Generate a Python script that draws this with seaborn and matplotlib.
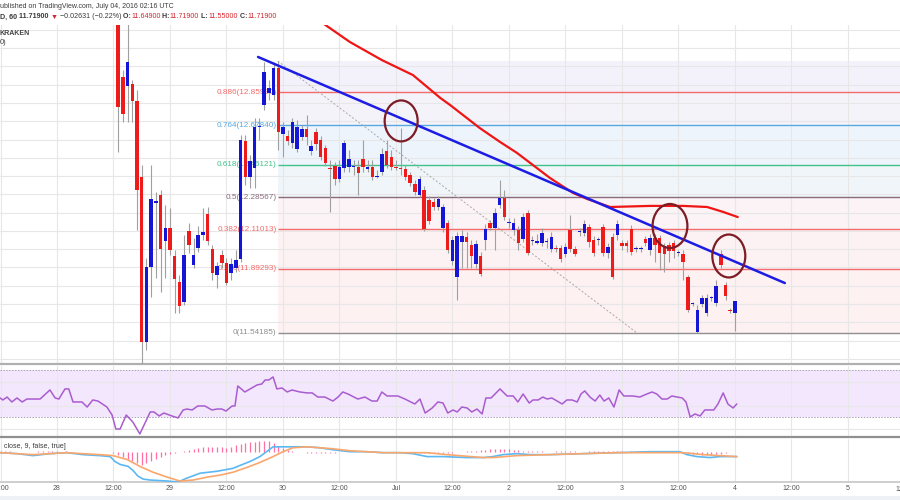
import numpy as np
import pandas as pd
import matplotlib
matplotlib.use("Agg")
import matplotlib.pyplot as plt
import matplotlib.transforms as mtransforms
import seaborn as sns
from matplotlib.patches import Ellipse, Rectangle

# -------------------
# 1. DATA (hourly candles)
# -------------------
# x axis is hours counted from Jun 28 00:00
FIRST_HOUR = 13

opens = [13.419, 12.943, 12.894, 12.905, 12.812, 12.396, 11.493, 11.903, 12.254, 12.297,
         12.046, 12.117, 11.964, 11.821, 11.712, 12.100, 11.914, 12.007, 12.079, 12.193,
         12.002, 11.860, 11.969, 11.925, 11.871, 11.898, 11.947, 12.593, 12.396, 12.445,
         12.669, 12.790, 12.855, 12.844, 12.992, 12.631, 12.620, 12.582, 12.549, 12.615,
         12.658, 12.538, 12.642, 12.598, 12.554, 12.445, 12.456, 12.385, 12.445, 12.450,
         12.450, 12.450, 12.494, 12.440, 12.450, 12.396, 12.423, 12.538, 12.505, 12.450,
         12.445, 12.440, 12.407, 12.358, 12.297, 12.325, 12.270, 12.259, 12.232, 12.117,
         12.144, 11.936, 11.849, 12.040, 12.068, 12.024, 11.920, 11.964, 12.051, 12.144,
         12.117, 12.243, 12.281, 12.144, 12.106, 12.106, 12.057, 12.199, 12.046, 12.035,
         12.035, 12.040, 12.002, 12.007, 12.007, 11.975, 12.106, 12.002, 12.095, 12.089,
         12.122, 12.051, 12.051, 12.122, 11.980, 12.068, 12.079, 12.035, 12.035, 12.111,
         12.002, 12.002, 12.057, 11.997, 12.062, 12.062, 12.018, 12.024, 12.035, 11.980,
         11.975, 11.849, 11.701, 11.548, 11.701, 11.652, 11.734, 11.707, 11.975, 11.805,
         11.668, 11.649]
highs = [13.473, 12.981, 13.255, 12.926, 12.872, 12.461, 11.953, 12.461, 12.314, 12.325,
         12.243, 12.226, 11.997, 11.860, 12.079, 12.144, 12.062, 12.128, 12.226, 12.232,
         12.024, 11.931, 11.997, 11.953, 11.953, 11.997, 12.626, 12.626, 12.516, 12.719,
         12.719, 13.025, 12.926, 13.025, 13.030, 12.697, 12.653, 12.719, 12.708, 12.680,
         12.735, 12.598, 12.664, 12.620, 12.571, 12.489, 12.478, 12.489, 12.598, 12.544,
         12.489, 12.489, 12.598, 12.489, 12.489, 12.434, 12.554, 12.598, 12.544, 12.489,
         12.664, 12.461, 12.423, 12.379, 12.401, 12.347, 12.292, 12.281, 12.292, 12.248,
         12.161, 12.073, 12.095, 12.106, 12.095, 12.051, 12.051, 11.986, 12.139, 12.161,
         12.226, 12.379, 12.325, 12.172, 12.172, 12.128, 12.199, 12.215, 12.073, 12.084,
         12.117, 12.062, 12.095, 12.024, 12.024, 12.035, 12.188, 12.018, 12.117, 12.161,
         12.139, 12.073, 12.068, 12.139, 12.035, 12.089, 12.161, 12.051, 12.051, 12.133,
         12.018, 12.018, 12.073, 12.084, 12.084, 12.079, 12.035, 12.040, 12.051, 11.997,
         11.997, 11.860, 11.712, 11.696, 11.750, 11.756, 11.745, 11.832, 11.997, 11.821,
         11.679, 11.719]
lows = [12.533, 12.697, 12.697, 12.697, 12.106, 11.368, 11.450, 11.739, 11.843, 11.767,
        11.843, 11.969, 11.652, 11.652, 11.696, 11.980, 11.898, 11.986, 12.051, 12.024,
        11.832, 11.789, 11.898, 11.805, 11.832, 11.876, 11.931, 12.352, 12.336, 12.336,
        12.598, 12.762, 12.817, 12.817, 12.544, 12.505, 12.571, 12.554, 12.533, 12.598,
        12.571, 12.516, 12.544, 12.489, 12.456, 12.204, 12.352, 12.368, 12.423, 12.423,
        12.407, 12.297, 12.423, 12.423, 12.379, 12.390, 12.407, 12.445, 12.434, 12.434,
        12.407, 12.379, 12.347, 12.297, 12.286, 12.100, 12.139, 12.215, 12.215, 12.095,
        11.980, 11.914, 11.723, 11.898, 11.898, 11.898, 11.898, 11.854, 11.997, 12.106,
        11.997, 12.226, 12.161, 12.117, 12.079, 11.997, 12.040, 11.969, 12.024, 12.029,
        12.018, 12.007, 11.986, 11.986, 11.931, 11.958, 11.986, 11.964, 12.073, 12.073,
        12.013, 11.964, 12.024, 11.964, 11.953, 11.838, 12.051, 11.997, 11.986, 11.969,
        11.986, 11.986, 12.018, 11.969, 11.931, 11.887, 11.876, 11.931, 11.953, 11.964,
        11.832, 11.657, 11.690, 11.542, 11.685, 11.636, 11.717, 11.690, 11.898, 11.723,
        11.652, 11.550]
closes = [12.779, 12.740, 13.025, 12.812, 12.325, 11.493, 11.903, 12.275, 12.265, 12.002,
          12.117, 11.997, 11.838, 11.690, 11.969, 12.024, 11.969, 12.079, 12.095, 12.046,
          11.871, 11.909, 11.925, 11.816, 11.920, 11.942, 12.598, 12.396, 12.483, 12.669,
          12.675, 12.970, 12.883, 12.992, 12.642, 12.669, 12.593, 12.697, 12.669, 12.658,
          12.615, 12.565, 12.576, 12.505, 12.472, 12.440, 12.385, 12.450, 12.582, 12.494,
          12.456, 12.418, 12.450, 12.450, 12.396, 12.401, 12.522, 12.461, 12.450, 12.445,
          12.440, 12.396, 12.363, 12.314, 12.385, 12.111, 12.155, 12.232, 12.275, 12.232,
          11.997, 12.051, 12.073, 12.073, 12.040, 11.964, 12.029, 11.865, 12.111, 12.117,
          12.199, 12.281, 12.177, 12.144, 12.144, 12.035, 12.177, 11.980, 12.051, 12.046,
          12.089, 12.040, 12.068, 12.002, 11.947, 12.013, 12.002, 11.975, 12.095, 12.139,
          12.040, 11.980, 12.051, 11.980, 12.013, 11.849, 12.139, 12.018, 12.018, 11.986,
          12.002, 12.002, 12.035, 12.062, 12.024, 11.980, 11.975, 11.991, 11.991, 11.980,
          11.931, 11.668, 11.701, 11.668, 11.734, 11.734, 11.734, 11.800, 11.914, 11.745,
          11.663, 11.719]

# red moving average on the price pane
ma_hours = [56.0, 62.2, 69.0, 75.6, 81.4, 83.5, 89.8, 94.1, 97.7, 104.7, 109.6, 112.6,
            117.5, 126.0, 133.0, 138.1, 141.5, 144.6]
ma_vals = [13.245, 13.134, 13.035, 12.953, 12.828, 12.789, 12.663, 12.587, 12.527, 12.390,
           12.308, 12.275, 12.231, 12.237, 12.237, 12.231, 12.204, 12.176]

# fibonacci retracement
fib_ratios = ['0', '0.236', '0.382', '0.5', '0.618', '0.764', '0.886', '1']
fib_prices = [11.54185, 11.89293, 12.11013, 12.28567, 12.46121, 12.67840, 12.85990, 13.02949]
fib_anchor_hours = [46.9, 123.2]
FIB_START = 47

# blue trend line (two anchor points) and the circled touches
trend_hours = [42.7, 154.6]
trend_prices = [13.052, 11.815]
circle_hours = [73.1, 130.2, 142.7]
circle_prices = [12.702, 12.127, 11.963]

# RSI(14)
rsi_hours = [-12.1, -11.5, -10.6, -9.6, -8.5, -7.4, -6.4, -3.6, -1.5, -0.4, 0.4, 1.7, 2.5, 3.4,
             5.3, 6.4, 7.6, 8.7, 10.6, 11.7, 12.5, 13.4, 14.7, 16.1, 17.6, 18.7, 19.8, 20.6,
             21.7, 22.7, 24.4, 25.7, 26.8, 27.6, 28.7, 29.9, 31.4, 32.9, 34.0, 35.0, 35.9,
             37.2, 37.8, 38.4, 39.9, 41.4, 42.5, 43.5, 44.2, 45.0, 45.9, 46.7, 47.8, 48.9,
             49.9, 51.6, 53.1, 54.2, 55.4, 56.9, 58.6, 59.7, 60.7, 61.8, 63.9, 65.4, 66.9,
             68.0, 69.0, 70.1, 72.4, 73.9, 76.0, 77.1, 78.2, 79.7, 80.9, 82.0, 83.0, 84.1,
             85.0, 86.0, 87.1, 88.1, 89.2, 90.3, 91.1, 92.2, 94.1, 95.6, 96.9, 97.9, 99.0,
             100.3, 101.1, 102.2, 103.2, 104.1, 105.1, 106.2, 107.3, 108.3, 109.4, 110.5,
             111.3, 112.1, 113.2, 114.3, 115.3, 116.2, 117.2, 118.3, 119.4, 120.4, 122.3,
             123.8, 125.3, 126.4, 127.4, 128.5, 129.6, 130.6, 131.7, 132.8, 133.6, 134.5,
             135.5, 136.6, 137.6, 139.5, 140.4, 141.5, 142.5, 143.6, 144.4]
rsi_vals = [46.6, 44.9, 47.4, 43.2, 46.6, 43.2, 45.7, 45.7, 53.4, 46.6, 45.7, 54.3, 54.3, 43.2,
            43.2, 38.9, 44.9, 44.0, 38.9, 32.1, 20.2, 20.2, 32.1, 26.2, 16.0, 25.3, 34.7, 34.7,
            31.3, 33.8, 31.3, 29.6, 36.4, 37.2, 36.4, 39.8, 39.8, 36.4, 37.2, 37.2, 35.5,
            39.8, 39.8, 56.8, 51.7, 55.1, 57.7, 58.5, 61.9, 61.9, 64.5, 54.3, 55.1, 51.7,
            53.4, 51.7, 50.9, 50.9, 47.4, 47.4, 44.0, 47.4, 51.7, 50.0, 45.7, 47.4, 44.0,
            44.0, 51.7, 48.3, 48.3, 45.7, 41.5, 45.7, 33.8, 38.1, 43.2, 42.3, 33.8, 36.4,
            34.7, 38.9, 38.1, 34.7, 37.2, 33.0, 46.6, 46.6, 54.3, 48.3, 48.3, 43.2, 50.0,
            42.3, 44.9, 44.9, 47.4, 45.7, 46.6, 44.0, 41.5, 44.9, 44.9, 43.2,
            50.0, 52.6, 47.4, 44.0, 49.1, 44.0, 46.6, 38.9, 53.4, 48.3, 48.3,
            47.4, 50.0, 51.7, 50.0, 45.7, 45.7, 48.3, 47.4, 46.6, 43.2, 30.4,
            33.0, 31.3, 36.4, 36.4, 41.5, 50.9, 41.5, 38.1, 41.5]

# MACD (12, 26, close, 9)
macd_hours = [-12.1, -8.5, -5.1, -1.5, 2.1, 5.5, 9.1, 11.3, 12.3, 13.4, 15.1, 16.1, 17.2, 18.3,
              19.8, 23.4, 25.7, 27.6, 30.4, 34.0, 37.4, 38.9, 41.0, 43.1, 45.9, 48.0, 50.1,
              53.1, 55.9, 58.6, 62.2, 65.8, 69.2, 72.9, 75.6, 78.6, 82.0, 87.1, 90.5, 92.6,
              94.7, 97.7, 100.5, 104.7, 111.7, 118.9, 126.0, 132.3, 133.8, 135.9, 138.7,
              140.8, 144.4]
macd_vals = [-0.01, -0.02, -0.04, -0.02, -0.01, -0.03, -0.04, -0.05, -0.10, -0.13, -0.15, -0.19,
             -0.25, -0.28, -0.29, -0.30, -0.31, -0.27, -0.22, -0.20, -0.17, -0.14, -0.10, -0.05,
             0.05, 0.05, 0.05, 0.05, 0.04, 0.02, 0.00, 0.00, -0.01, -0.01, -0.02, -0.05, -0.05,
             -0.06, -0.06, -0.05, -0.03, -0.02, -0.03, -0.03, -0.02, -0.01, 0.00, 0.00, -0.03,
             -0.05, -0.06, -0.05, -0.05]
signal_hours = [-12.1, -5.1, 2.1, 5.5, 9.1, 11.9, 14.9, 17.6, 20.4, 23.4, 26.1, 28.9, 31.9, 34.6,
                37.4, 40.4, 43.1, 45.9, 48.0, 50.1, 53.1, 55.9, 58.6, 62.2, 65.8, 69.2, 72.9,
                78.6, 82.8, 90.5, 92.6, 97.7, 104.7, 111.7, 118.9, 126.0, 133.0, 137.2, 144.4]
signal_vals = [-0.01, -0.03, -0.01, -0.02, -0.03, -0.04, -0.08, -0.15, -0.21, -0.26, -0.30, -0.29,
               -0.26, -0.24, -0.21, -0.16, -0.11, -0.05, 0.00, 0.04, 0.05, 0.04, 0.03, 0.01, 0.00,
               -0.01, -0.01, -0.01, -0.03, -0.06, -0.06, -0.04, -0.03, -0.02, -0.01, -0.01, -0.01,
               -0.03, -0.05]
HIST_START = -12
hist_vals = [0.005, 0.005, 0.004, 0.002, -0.003, -0.005, -0.004, 0.002, 0.004, 0.006, 0.006, 0.004,
             0.003, 0.002, 0.003, 0.002, 0.0, -0.002, -0.003, -0.002, -0.003, -0.004, -0.004,
             -0.005, -0.01, -0.035, -0.055, -0.075, -0.09, -0.115, -0.14, -0.12, -0.095, -0.07,
             -0.055, -0.035, -0.02, -0.01, -0.005, 0.005,
             0.015, 0.025, 0.04, 0.045, 0.05, 0.05, 0.05, 0.045, 0.04, 0.05, 0.065, 0.075, 0.085,
             0.095, 0.10, 0.11, 0.11, 0.105, 0.09, 0.06, 0.04, 0.02, 0.008,
             -0.004, -0.008, -0.01, -0.012, -0.012, -0.01, -0.01, -0.012, -0.01, -0.008, -0.008,
             -0.006, -0.005, -0.005, -0.006, -0.006, -0.005, -0.004, -0.004, -0.005, -0.006,
             -0.008, -0.008, -0.006, -0.008, -0.01, -0.012, -0.014, -0.012, -0.01, -0.012,
             -0.012, -0.01,
             -0.01, -0.005, 0.0, 0.005, 0.01, 0.012, 0.015, 0.02, 0.025, 0.03, 0.03, 0.028, 0.025,
             0.02, 0.015, 0.01, 0.008, 0.005,
             0.004, 0.003, 0.002, 0.002, 0.003, 0.005, 0.004, 0.005, 0.003, 0.002, 0.002, 0.003,
             0.003, 0.004, 0.006, 0.005, 0.004, 0.003, 0.003, 0.002, 0.003, 0.004, 0.006, 0.006,
             0.005, 0.004, 0.003, 0.002, 0.002, 0.001, -0.002, -0.005,
             -0.01, -0.02, -0.025, -0.03, -0.03, -0.03, -0.025, -0.02, -0.01, -0.005, 0.0]

tick_hours = list(range(-12, 169, 12))
tick_labels = ['12:00', '28', '12:00', '29', '12:00', '30', '12:00', 'Jul', '12:00', '2',
               '12:00', '3', '12:00', '4', '12:00', '5']

# -------------------
# 2. LAYOUT
# -------------------
W, H = 900, 500
X_LEFT, X_RIGHT = -12.107, 179.06
GRID = '#e7e7e7'
TXT = '#3a3a3a'

sns.set_theme(style="white")
plt.rcParams['font.family'] = ['Liberation Sans', 'DejaVu Sans']
plt.rcParams['axes.unicode_minus'] = True

fig = plt.figure(figsize=(W / 100, H / 100), dpi=100, facecolor='white')


def pane(top_px, bottom_px):
    return [0, 1 - bottom_px / H, 1, (bottom_px - top_px) / H]


ax = fig.add_axes(pane(25, 364))
ax_rsi = fig.add_axes(pane(366, 437))
ax_macd = fig.add_axes(pane(439, 482))

for a in (ax, ax_rsi, ax_macd):
    a.set_xlim(X_LEFT, X_RIGHT)
    a.set_xticks(tick_hours)
    a.set_axisbelow(True)
    a.grid(True, color=GRID, lw=0.8)
    a.tick_params(left=False, bottom=False, labelleft=False, labelbottom=False, length=0)
    for s in ('top', 'left', 'right'):
        a.spines[s].set_visible(False)

# -------------------
# 3. PRICE PANE
# -------------------
ax.set_ylim(11.372, 13.2268)
ax.set_yticks(np.round(np.arange(11.4, 13.25, 0.1), 1))
ax.spines['bottom'].set_color('#b0b0b0')
ax.spines['bottom'].set_linewidth(1.6)

# fib bands + levels
fib_fills = ['#fdf1f2', '#fdf2f3', '#fbf3f5', '#eff5f8', '#eef4fc', '#f5f3fa', '#f3f2fb']
fib_colors = ['#8f8f8f', '#f46a6a', '#f46a6a', '#8a6b7c', '#3fc38a', '#55a8e0', '#f46a6a']
for i, col in enumerate(fib_fills):
    ax.fill_between([FIB_START, X_RIGHT], fib_prices[i], fib_prices[i + 1],
                    color=col, lw=0, zorder=0.2)
for ratio, price, col in zip(fib_ratios[:-1], fib_prices[:-1], fib_colors):
    ax.hlines(price, FIB_START, X_RIGHT, color=col, lw=1.0, zorder=2)
    ax.text(FIB_START - 0.4, price, f"{ratio}({price:.5f})", color=col, fontsize=5.9,
            ha='right', va='center', zorder=2.5)
ax.plot(fib_anchor_hours, [fib_prices[-1], fib_prices[0]], color='#a8a8a8', lw=0.7,
        ls=(0, (2, 2)), zorder=2)

# candles
hours = FIRST_HOUR + np.arange(len(opens))
o, hi, lo, c = (np.array(v) for v in (opens, highs, lows, closes))
colors = np.where(c >= o, '#1515d6', '#ee1b1b')
body_bot = np.minimum(o, c)
body_h = np.abs(c - o)
flat = body_h < 0.006
body_bot = np.where(flat, (o + c) / 2 - 0.003, body_bot)
body_h = np.where(flat, 0.006, body_h)
ax.vlines(hours, lo, hi, color='#a0a0a0', lw=0.8, zorder=3)
ax.bar(hours, body_h, bottom=body_bot, width=0.74, color=colors, lw=0, zorder=4)

# moving average + trend line
ma = pd.DataFrame({'hour': ma_hours, 'price': ma_vals})
sns.lineplot(data=ma, x='hour', y='price', ax=ax, color='#f01515', lw=1.6, sort=False,
             legend=False, zorder=5)
ax.plot(trend_hours, trend_prices, color='#1c1ce4', lw=1.8, zorder=5,
        solid_capstyle='round')
for (ch, cp), (w, h) in zip(zip(circle_hours, circle_prices),
                            [(7.0, 0.224), (7.4, 0.241), (7.0, 0.235)]):
    ax.add_patch(Ellipse((ch, cp), w, h, fill=False, ec='#7c1c26', lw=1.6, zorder=6))
ax.set_xlabel('')
ax.set_ylabel('')

# -------------------
# 4. RSI PANE
# -------------------
ax_rsi.set_ylim(13.4, 73.8)
ax_rsi.set_yticks([20, 40, 60])
ax_rsi.axhspan(30, 70, color='#f3e7fd', lw=0, zorder=0.1)
for lvl in (30, 70):
    ax_rsi.axhline(lvl, color='#a9a2b3', lw=0.7, ls=(0, (1.5, 1.5)), zorder=1)
rsi = pd.DataFrame({'hour': rsi_hours, 'rsi': rsi_vals})
sns.lineplot(data=rsi, x='hour', y='rsi', ax=ax_rsi, color='#a95ccf', lw=1.1, sort=False,
             legend=False)
ax_rsi.spines['bottom'].set_color('#909090')
ax_rsi.spines['bottom'].set_linewidth(1.6)
ax_rsi.set_xlabel('')
ax_rsi.set_ylabel('')

# -------------------
# 5. MACD PANE
# -------------------
ax_macd.set_ylim(-0.31, 0.13)
ax_macd.set_yticks([])
hist_hours = HIST_START + np.arange(len(hist_vals))
ax_macd.vlines(hist_hours, 0, hist_vals, color='#ff6fa3', lw=0.9, zorder=2)
macd = pd.DataFrame({'hour': macd_hours, 'v': macd_vals})
sig = pd.DataFrame({'hour': signal_hours, 'v': signal_vals})
sns.lineplot(data=macd, x='hour', y='v', ax=ax_macd, color='#5cb8f2', lw=1.2, sort=False,
             legend=False, zorder=3)
sns.lineplot(data=sig, x='hour', y='v', ax=ax_macd, color='#f9a76c', lw=1.2, sort=False,
             legend=False, zorder=3)
ax_macd.spines['bottom'].set_color('#c8c8c8')
ax_macd.set_xlabel('')
ax_macd.set_ylabel('')
ax_macd.tick_params(labelbottom=True, pad=2.5, labelsize=5, colors='#555555', length=0)
ax_macd.set_xticklabels(tick_labels)
ax_macd.text(180, -0.186, '12:00', transform=mtransforms.blended_transform_factory(
    ax_macd.transData, ax_macd.transAxes), fontsize=5, color='#555555',
    ha='center', va='center', clip_on=False)
ax_macd.text(0.004, 0.82, 'close, 9, false, true]', transform=ax_macd.transAxes,
             fontsize=5, color=TXT, ha='left', va='center')

# -------------------
# 6. HEADER
# -------------------
fig.add_artist(Rectangle((0, 0), 1, 4 / H, transform=fig.transFigure,
                         color='#eef1f5', lw=0))
fig.text(0, 1 - 6 / H, 'ublished on TradingView.com, July 04, 2016 02:16 UTC',
         fontsize=5, color=TXT, ha='left', va='center')

RED = '#d4262c'
parts = [('D, 60', TXT, 'bold'), (' 11.71900', TXT, 'bold'), (' \u25bc', RED, 'normal'),
         (' \u22120.02631 (\u22120.22%)', TXT, 'normal'),
         (' O:', TXT, 'bold'), ('11.64900', RED, 'normal'),
         (' H:', TXT, 'bold'), ('11.71900', RED, 'normal'),
         (' L:', TXT, 'bold'), ('11.55000', RED, 'normal'),
         (' C:', TXT, 'bold'), ('11.71900', RED, 'normal')]
t = fig.text(0, 1 - 17 / H, parts[0][0], color=parts[0][1], fontweight=parts[0][2],
             fontsize=5.1, ha='left', va='center')
for text, col, weight in parts[1:]:
    t = ax.annotate(text, xy=(1, 0), xycoords=t, va='bottom', ha='left', color=col,
                    fontweight=weight, fontsize=5.1, annotation_clip=False)

fig.text(0, 1 - 33 / H, 'KRAKEN', fontsize=5, fontweight='bold', color='#444444',
         ha='left', va='center')
fig.text(0, 1 - 43 / H, '0)', fontsize=5.5, color='#444444', ha='left', va='center')

fig.savefig('out.png', dpi=100, facecolor='white')
